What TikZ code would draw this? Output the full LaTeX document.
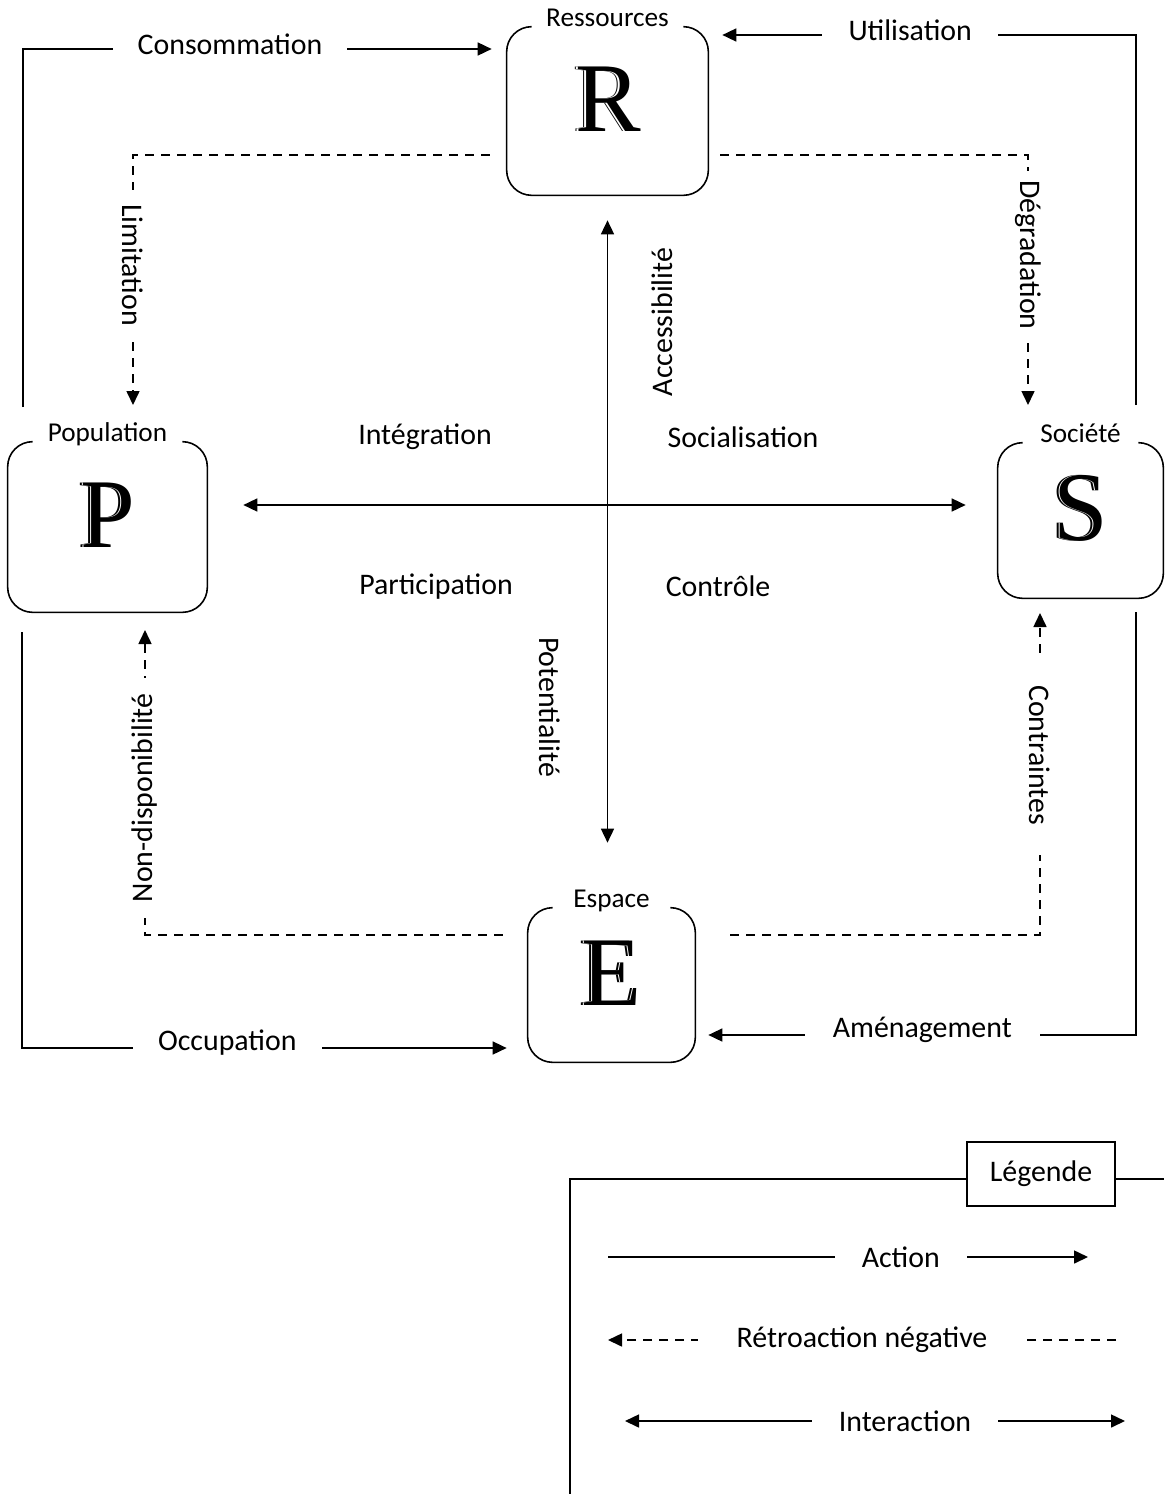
\documentclass[tikz,border=0pt]{standalone}
\usepackage{fontspec}
\setmainfont{Carlito}
\newfontfamily\lettrefont{Liberation Serif}
\usetikzlibrary{arrows.meta,calc}

\tikzset{
  >={Triangle[length=0.28cm,width=0.26cm]},
  trait/.style={line width=0.9pt},
  action/.style={trait,->},
  retro/.style={trait,dash pattern=on 0.18cm off 0.14cm,->},
  interaction/.style={trait,<->},
  texte/.style={font=\fontsize{17}{20}\selectfont,inner sep=0pt},
  trou/.style={texte,fill=white,minimum height=0.6cm,minimum width=#1*0.02cm},
  haut/.style={yshift=0.1cm},
  titre/.style={font=\fontsize{15.5}{18}\selectfont,inner sep=0pt},
  lettre/.style={font=\fontsize{56}{56}\lettrefont,inner sep=0pt},
  boite/.style={inner sep=0pt}
}

\begin{document}
\begin{tikzpicture}[x=0.02cm,y=-0.02cm]
    \useasboundingbox (0,0) rectangle (1164,1494);

    % the four boxes
    \node[boite,minimum width=4.02cm,minimum height=3.36cm] (ressources) at (607.5,111) {};
    \node[boite,minimum width=3.98cm,minimum height=3.4cm] (population) at (107.5,527) {};
    \node[boite,minimum width=3.3cm,minimum height=3.1cm] (societe) at (1080.5,520.5) {};
    \node[boite,minimum width=3.34cm,minimum height=3.08cm] (espace) at (611.5,985) {};

    % rounded outlines, open on top, with title and engraved letter
    \foreach \b/\t/\l in {ressources/Ressources/R, population/Population/P,
      societe/Société/S, espace/Espace/E} { \draw[trait,rounded
      corners=0.5cm] ($(\b.north west)+(0.5cm,0)$) -- (\b.north west)
      -- (\b.south west) -- (\b.south east) -- (\b.north east) --
      ($(\b.north east)+(-0.5cm,0)$); \node[titre,anchor=base] (t-\b)
      at (\b.north) {\t}; \node[lettre] (l-\b) at
      ([xshift=-0.05cm,yshift=0.24cm]\b.center) {\l};
      \node[lettre,text=white] (l2-\b) at ([xshift=0.028cm]l-\b.center) {\l};
      \node[lettre] (l3-\b) at ([xshift=0.06cm]l-\b.center) {\l}; }

    % corners of the outer and dashed lines
    \coordinate (consB) at (23,407); \coordinate (consH) at (23,49);
    \coordinate (utilB) at (1136,405); \coordinate (utilH) at (1136,35);
    \coordinate (occH) at (22,632); \coordinate (occB) at (22,1048);
    \coordinate (amenH) at (1136,612); \coordinate (amenB) at (1136,1035);
    \coordinate (limC) at (133,155); \coordinate (limF) at (133,405);
    \coordinate (degC) at (1028,155); \coordinate (degF) at (1028,405);
    \coordinate (nonC) at (145,935); \coordinate (nonF) at (145,630);
    \coordinate (conC) at (1040,935); \coordinate (conF) at (1040,613);
    \coordinate (croix) at (607,505);

    % actions
    \draw[action,shorten >=0.3cm] (consB) -- (consH) --
    node[trou=234,pos=0.428,haut]{Consommation} (ressources.west |- consH);
    \draw[action,shorten >=0.28cm] (utilB) -- (utilH) --
    node[trou=176,pos=0.528,haut]{Utilisation} (ressources.east |- utilH);
    \draw[action,shorten >=0.42cm] (occH) -- (occB) --
    node[trou=189,pos=0.406,haut]{Occupation} (espace.west |- occB);
    \draw[action,shorten >=0.26cm] (amenH) -- (amenB) --
    node[trou=235,pos=0.485,haut]{Aménagement} (espace.east |- amenB);

    % negative feedback
    \draw[retro,shorten <=0.34cm] (ressources.west |- limC) -- (limC)
    -- node[trou=150,pos=0.44,rotate=-90]{Limitation} (limF);
    \draw[retro,shorten <=0.24cm] (ressources.east |- degC) -- (degC)
    -- node[trou=168,pos=0.40,rotate=-90]{Dégradation} (degF);
    \draw[retro,shorten <=0.5cm] (espace.west |- nonC) -- (nonC) --
    node[trou=240,pos=0.45,rotate=90]{Non-disponibilité} (nonF);
    \draw[retro,shorten <=0.7cm] (espace.east |- conC) -- (conC) --
    node[trou=200,pos=0.559,rotate=-90]{Contraintes} (conF);

    % the cross of interactions
    \draw[interaction,shorten <=0.5cm,shorten >=1.3cm]
    (ressources.south) -- (ressources.south |- espace.north);
    \draw[interaction,shorten <=0.72cm,shorten >=0.64cm]
    (population.east |- croix) -- (societe.west |- croix);
    \node[texte,rotate=90] (access) at (662,322) {Accessibilité};
    \node[texte,rotate=-90] (potent) at (550,707) {Potentialité};
    \node[texte] (integ) at (425,437) {Intégration};
    \node[texte] (social) at (743,437) {Socialisation};
    \node[texte] (partic) at (436,587) {Participation};
    \node[texte] (contr) at (718,586) {Contrôle};

    % legend
    \coordinate (legB) at (570,1494); \coordinate (legC) at (570,1179);
    \coordinate (legD) at (1164,1179);
    \draw[trait] (legB) -- (legC) -- (legD);
    \node[texte,draw,trait,fill=white,minimum width=2.96cm,minimum
    height=1.28cm] (legende) at (1041,1174) {Légende};
    \coordinate (actG) at (608,1257); \coordinate (actD) at (1088,1257);
    \draw[action] (actG) -- node[trou=132,pos=0.61]{Action} (actD);
    \coordinate (retG) at (608,1340); \coordinate (retD) at (1116,1340);
    \draw[retro] (retD) -- node[trou=328,pos=0.50]{Rétroaction
      négative} (retG);
    \coordinate (intG) at (625,1421); \coordinate (intD) at (1125,1421);
    \draw[interaction] (intG) -- node[trou=186,pos=0.56]{Interaction}
    (intD);
  \end{tikzpicture}
\end{document}
